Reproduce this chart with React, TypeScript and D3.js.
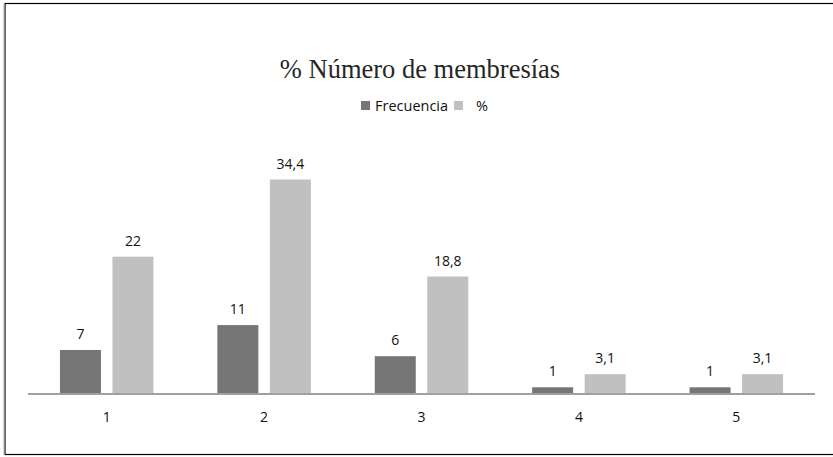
import React from "react";
import * as d3 from "d3";

const categories = ["1", "2", "3", "4", "5"];
const frecuencia = [7, 11, 6, 1, 1];
const porcentaje = [22, 34.4, 18.8, 3.1, 3.1];
const frecuenciaLabels = ["7", "11", "6", "1", "1"];
const porcentajeLabels = ["22", "34,4", "18,8", "3,1", "3,1"];
const seriesNames = ["Frecuencia", "%"];
const title = "% Número de membresías";

const W = 833;
const H = 457;
const DARK = "#767676";
const LIGHT = "#c0c0c0";
const FONT = "'Open Sans', sans-serif";
const FS = 14;

export default function App() {
  const x = d3.scaleBand<string>().domain(categories).range([28, 815]).paddingInner(0).paddingOuter(0);
  const y = d3.scaleLinear().domain([0, 40]).range([393.5, 144.7]);
  const barW = 41;
  const gap = 11.5;
  const groupW = barW * 2 + gap;
  const off = (x.bandwidth() - groupW) / 2;

  return (
    <svg width={W} height={H} style={{ position: "absolute", left: 0, top: 0, background: "#fff" }}>
      <rect x={5} y={3.5} width={840} height={451} fill="#fff" stroke="#000" strokeWidth={1.2} />
      <line x1={4} x2={4} y1={4} y2={455} stroke="#aaa" strokeWidth={1} />
      <text x={420} y={78} textAnchor="middle" fontFamily="'Liberation Serif', serif" fontSize={26.5} fill="#262626">
        {title}
      </text>
      <rect x={361} y={101} width={9} height={9} fill={DARK} />
      <text x={375} y={111} fontFamily={FONT} fontSize={14.5} fill="#111">{seriesNames[0]}</text>
      <rect x={454} y={101} width={9} height={9} fill={LIGHT} />
      <text x={476} y={111} fontFamily={FONT} fontSize={14.5} fill="#111">{seriesNames[1]}</text>

      {categories.map((c, i) => {
        const x0 = (x(c) as number) + off;
        const x1 = x0 + barW + gap;
        return (
          <g key={c}>
            <rect x={x0} y={y(frecuencia[i])} width={barW} height={y(0) - y(frecuencia[i])} fill={DARK} />
            <rect x={x1} y={y(porcentaje[i])} width={barW} height={y(0) - y(porcentaje[i])} fill={LIGHT} />
            <text x={x0 + barW / 2} y={y(frecuencia[i]) - 11} textAnchor="middle" fontFamily={FONT} fontSize={FS} fill="#111">
              {frecuenciaLabels[i]}
            </text>
            <text x={x1 + barW / 2} y={y(porcentaje[i]) - 11} textAnchor="middle" fontFamily={FONT} fontSize={FS} fill="#111">
              {porcentajeLabels[i]}
            </text>
            <text x={(x(c) as number) + x.bandwidth() / 2} y={422} textAnchor="middle" fontFamily={FONT} fontSize={FS} fill="#111">
              {c}
            </text>
          </g>
        );
      })}
      <line x1={28} x2={815} y1={394} y2={394} stroke="#a0a0a0" strokeWidth={2} />
    </svg>
  );
}
